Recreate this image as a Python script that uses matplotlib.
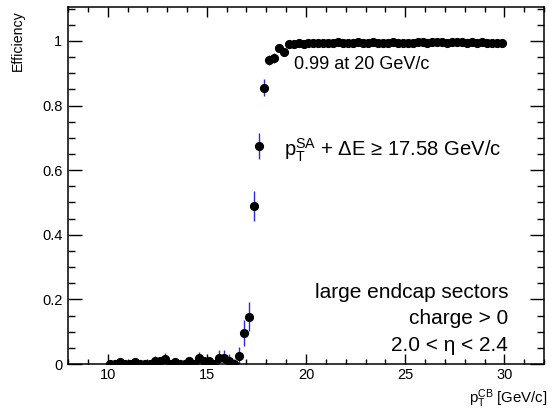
import numpy as np
import matplotlib
matplotlib.use("Agg")
import matplotlib.pyplot as plt
from matplotlib.ticker import MultipleLocator

plt.rcParams['font.family'] = ['Liberation Sans', 'DejaVu Sans']
plt.rcParams['mathtext.fontset'] = 'custom'
plt.rcParams['mathtext.rm'] = 'Liberation Sans'
plt.rcParams['mathtext.it'] = 'Liberation Sans:italic'
plt.rcParams['mathtext.bf'] = 'Liberation Sans:bold'

# bins: 0.25 GeV wide from 10 to 30 GeV/c
bin_edges = np.arange(10.0, 30.0001, 0.25)
pt = 0.5 * (bin_edges[:-1] + bin_edges[1:])

eff_low = [0, 0, 0.005, 0, 0, 0.005, 0, 0, 0, 0.01, 0.008, 0.015, 0, 0.006,
           0, 0, 0.008, 0, 0.018, 0.008, 0.008, 0, 0.018, 0.018, 0.01, 0, 0.024]
eff_turn = [0.096, 0.147, 0.49, 0.675, 0.855, 0.942, 0.947, 0.978, 0.966]
eff_plateau = [0.991, 0.992, 0.993, 0.992, 0.994, 0.993, 0.994, 0.995, 0.993, 0.994, 0.996,
               0.995, 0.994, 0.995, 0.996, 0.994, 0.995, 0.996, 0.995, 0.994, 0.995, 0.996,
               0.995, 0.994, 0.993, 0.995, 0.996, 0.997, 0.995, 0.996, 0.997, 0.996, 0.995,
               0.996, 0.997, 0.996, 0.995, 0.996, 0.995, 0.996, 0.995, 0.994, 0.995, 0.994]

err_low = [0.008, 0.008, 0.01, 0.008, 0.008, 0.01, 0.008, 0.008, 0.008, 0.015, 0.012,
           0.018, 0.008, 0.012, 0.01, 0.01, 0.012, 0.01, 0.02, 0.015, 0.015, 0.01,
           0.025, 0.025, 0.02, 0.015, 0.03]
err_turn = [0.04, 0.045, 0.047, 0.04, 0.026, 0.015, 0.015, 0.012, 0.012]
err_plateau = [0.003] * 44

eff = np.array(eff_low + eff_turn + eff_plateau)
err = np.array(err_low + err_turn + err_plateau)
err_up = np.minimum(err, 1.0 - eff)
err_dn = np.minimum(err, eff)

fig = plt.figure(figsize=(5.6, 4.11), dpi=100)
ax = fig.add_axes([68/560, 1 - 364/411, (544-68)/560, (364-7)/411])

ax.errorbar(pt, eff, yerr=[err_dn, err_up], fmt='none', ecolor='#2a2ae0',
            elinewidth=1.0, capsize=0, zorder=2)
ax.plot(pt, eff, 'o', color='black', markersize=5.6, zorder=3)

ax.set_xlim(8, 32)
ax.set_ylim(0, 1.105)
ax.xaxis.set_major_locator(MultipleLocator(5))
ax.xaxis.set_minor_locator(MultipleLocator(1))
ax.yaxis.set_major_locator(MultipleLocator(0.2))
ax.yaxis.set_minor_locator(MultipleLocator(0.05))
ax.set_yticks([0, 0.2, 0.4, 0.6, 0.8, 1.0])
ax.set_yticklabels(['0', '0.2', '0.4', '0.6', '0.8', '1'])
ax.set_xticks([10, 15, 20, 25, 30])
ax.tick_params(axis='x', which='major', direction='in', length=7.2, width=1.0,
               top=True, labelsize=10.5, pad=3)
ax.tick_params(axis='x', which='minor', direction='in', length=3.6, width=1.0, top=True)
ax.tick_params(axis='y', which='major', direction='in', length=10, width=1.0,
               right=True, labelsize=10.5, pad=4)
ax.tick_params(axis='y', which='minor', direction='in', length=5, width=1.0, right=True)
for s in ax.spines.values():
    s.set_linewidth(1.1)

fig.text(18/560, 1 - 10/411, 'Efficiency', rotation=90, ha='center', va='top',
         fontsize=10.2)
fig.text(548/560, 1 - 399/411, r'$\mathrm{p}_{\mathrm{T}}^{\mathrm{CB}}$ [GeV/c]',
         ha='right', va='center', fontsize=10.8)

ax.text(19.4, 0.928, '0.99 at 20 GeV/c', ha='left', va='center', fontsize=13)
ax.text(18.9, 0.66, r'$\mathrm{p}_{\mathrm{T}}^{\mathrm{SA}}$ + ΔE ≥ 17.58 GeV/c',
        ha='left', va='center', fontsize=14.6)
ax.text(30.2, 0.221, 'large endcap sectors', ha='right', va='center', fontsize=15)
ax.text(30.2, 0.140, 'charge > 0', ha='right', va='center', fontsize=15)
ax.text(30.2, 0.056, '2.0 < η < 2.4', ha='right', va='center', fontsize=15)

fig.savefig('out.png', dpi=100)
